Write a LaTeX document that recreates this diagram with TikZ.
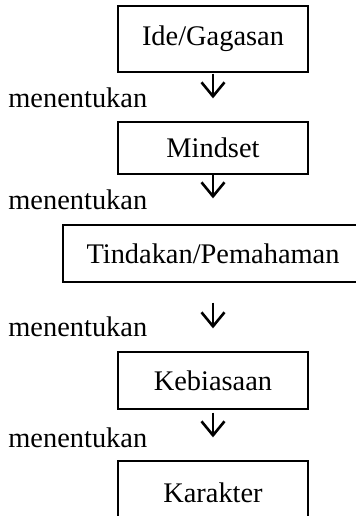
\documentclass[tikz,border=0pt]{standalone}
\usepackage{fontspec}
\setmainfont{Liberation Serif}
\usetikzlibrary{arrows.meta}
\begin{document}
\begin{tikzpicture}[x=0.5pt,y=-0.5pt,
  box/.style={draw,line width=0.65pt,inner sep=0pt,font=\fontsize{14.2}{16}\selectfont},
  lbl/.style={anchor=base west,inner sep=0pt,font=\fontsize{14.2}{16}\selectfont},
  flow/.style={line width=1.3pt,-{Straight Barb[length=7pt,width=11.5pt,line width=1.3pt]}}]
\useasboundingbox (0,0) rectangle (356,516);
\clip (0,0) rectangle (356,516);
\node[box,minimum width=95pt,minimum height=33pt] (b1) at (213,39) {Ide/Gagasan};
\node[box,minimum width=95pt,minimum height=26pt] (b2) at (213,148) {Mindset};
\node[box,minimum width=150pt,minimum height=28.5pt] (b3) at (213,253.5) {Tindakan/Pemahaman};
\node[box,minimum width=95pt,minimum height=28.5pt] (b4) at (213,380.5) {Kebiasaan};
\node[box,minimum width=95pt,minimum height=32pt] (b5) at (213,493) {Karakter};
\node[lbl] (l1) at (8,107) {menentukan};
\node[lbl] (l2) at (8,209) {menentukan};
\node[lbl] (l3) at (8,336) {menentukan};
\node[lbl] (l4) at (8,447) {menentukan};
\draw[flow,shorten <=0.5pt,shorten >=11.5pt] (b1.south) -- (b2.north);
\draw[flow,shorten <=0pt,shorten >=13pt] (b2.south) -- (b3.north);
\draw[flow,shorten <=10pt,shorten >=11.5pt] (b3.south) -- (b4.north);
\draw[flow,shorten <=1.5pt,shorten >=11.5pt] (b4.south) -- (b5.north);
\end{tikzpicture}
\end{document}
